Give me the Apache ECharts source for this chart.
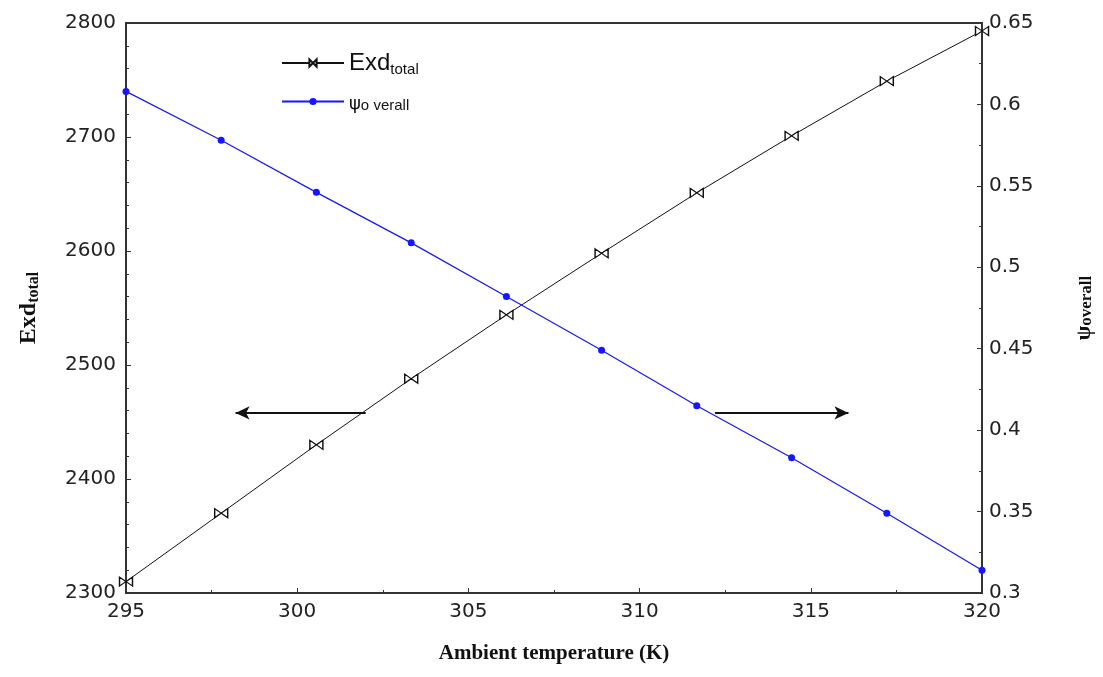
<!DOCTYPE html>
<html><head><meta charset="utf-8">
<script src="https://cdn.jsdelivr.net/npm/echarts@6/dist/echarts.min.js"></script>
<style>html,body{margin:0;padding:0;background:#fff}#c{width:1103px;height:677px}</style>
</head><body><div id="c"></div>
<script>
const temperature = [295, 297.78, 300.56, 303.33, 306.11, 308.89, 311.67, 314.44, 317.22, 320];
const exdTotal = [2310, 2370, 2430, 2488, 2544, 2598, 2651, 2701, 2749, 2793];
const psiOverall = [0.608, 0.578, 0.546, 0.515, 0.482, 0.449, 0.415, 0.383, 0.349, 0.314];
const leftArrow = [[302.0, 2458], [298.2, 2458]];
const rightArrow = [[312.2, 2458], [316.1, 2458]];

const chart = echarts.init(document.getElementById('c'));
const bowtie = 'path://M0,0 L10,6 L0,12 Z M20,0 L10,6 L20,12 Z';
const tickFont = {fontFamily: 'DejaVu Sans', fontSize: 20, color: '#222'};
chart.setOption({
  animation: false,
  grid: {left: 126, right: 120, top: 23, bottom: 84, show: true, borderColor: '#333', borderWidth: 2},
  legend: {
    left: 276, top: 46, orient: 'vertical', itemWidth: 62, itemHeight: 9, itemGap: 18,
    data: ['Exd', 'psi'],
    formatter: function (n) { return n === 'Exd' ? '{a|Exd}{b|total}' : '{c|ψ}{d|o verall}'; },
    textStyle: {
      rich: {
        a: {fontFamily: 'Liberation Sans', fontSize: 24, color: '#111'},
        b: {fontFamily: 'Liberation Sans', fontSize: 15, color: '#111', padding: [14, 0, 0, 0]},
        c: {fontFamily: 'DejaVu Sans', fontSize: 18, color: '#111', padding: [6, 0, 0, 0]},
        d: {fontFamily: 'Liberation Sans', fontSize: 15, color: '#111', padding: [8, 0, 0, 0]}
      }
    }
  },
  xAxis: {
    type: 'value', min: 295, max: 320, interval: 5,
    name: 'Ambient temperature (K)', nameLocation: 'middle', nameGap: 50,
    nameTextStyle: {fontFamily: 'Liberation Serif', fontWeight: 'bold', fontSize: 21, color: '#111'},
    axisLine: {show: true, lineStyle: {color: '#333', width: 2}},
    axisTick: {show: true, inside: true, length: 5, lineStyle: {color: '#333'}},
    minorTick: {show: true, splitNumber: 2, length: 3, lineStyle: {color: '#333'}},
    axisLabel: Object.assign({margin: 9, formatter: v => String(v)}, tickFont),
    splitLine: {show: false}
  },
  yAxis: [{
    type: 'value', min: 2300, max: 2800, interval: 100, position: 'left',
    name: '{a|Exd}{b|total}', nameLocation: 'middle', nameGap: 84, nameRotate: 90,
    nameTextStyle: {rich: {
      a: {fontFamily: 'Liberation Serif', fontWeight: 'bold', fontSize: 24, color: '#111'},
      b: {fontFamily: 'Liberation Serif', fontWeight: 'bold', fontSize: 16, color: '#111', padding: [10, 0, 0, 0]}
    }},
    axisLine: {show: true, lineStyle: {color: '#333', width: 2}},
    axisTick: {show: true, inside: true, length: 5, lineStyle: {color: '#333'}},
    minorTick: {show: true, splitNumber: 5, length: 3, lineStyle: {color: '#333'}},
    axisLabel: Object.assign({margin: 10, formatter: v => String(v)}, tickFont),
    splitLine: {show: false}
  }, {
    type: 'value', min: 0.3, max: 0.65, interval: 0.05, position: 'right',
    name: '{a|ψ}{b|overall}', nameLocation: 'middle', nameGap: 92, nameRotate: 90,
    nameTextStyle: {rich: {
      a: {fontFamily: 'Liberation Serif', fontWeight: 'bold', fontSize: 21, color: '#111'},
      b: {fontFamily: 'Liberation Serif', fontWeight: 'bold', fontSize: 17, color: '#111', padding: [4, 0, 0, 0]}
    }},
    axisLine: {show: true, lineStyle: {color: '#333', width: 2}},
    axisTick: {show: true, inside: true, length: 5, lineStyle: {color: '#333'}},
    minorTick: {show: true, splitNumber: 2, length: 3, lineStyle: {color: '#333'}},
    axisLabel: Object.assign({margin: 7, formatter: v => String(+v.toFixed(2))}, tickFont),
    splitLine: {show: false}
  }],
  series: [{
    name: 'Exd', type: 'line', yAxisIndex: 0,
    data: temperature.map((t, i) => [t, exdTotal[i]]),
    symbol: bowtie, symbolSize: [13, 9], showAllSymbol: true,
    lineStyle: {color: '#111', width: 1},
    itemStyle: {color: '#fff', borderColor: '#111', borderWidth: 1.2},
    markLine: {
      silent: true, symbol: ['none', 'arrow'], symbolSize: [10, 14],
      lineStyle: {color: '#111', width: 2, type: 'solid'}, label: {show: false},
      data: [
        [{coord: leftArrow[0]}, {coord: leftArrow[1]}],
        [{coord: rightArrow[0]}, {coord: rightArrow[1]}]
      ]
    }
  }, {
    name: 'psi', type: 'line', yAxisIndex: 1,
    data: temperature.map((t, i) => [t, psiOverall[i]]),
    symbol: 'circle', symbolSize: 7, showAllSymbol: true,
    lineStyle: {color: '#1515ff', width: 1.2},
    itemStyle: {color: '#1515ff'}
  }]
});
</script></body></html>
